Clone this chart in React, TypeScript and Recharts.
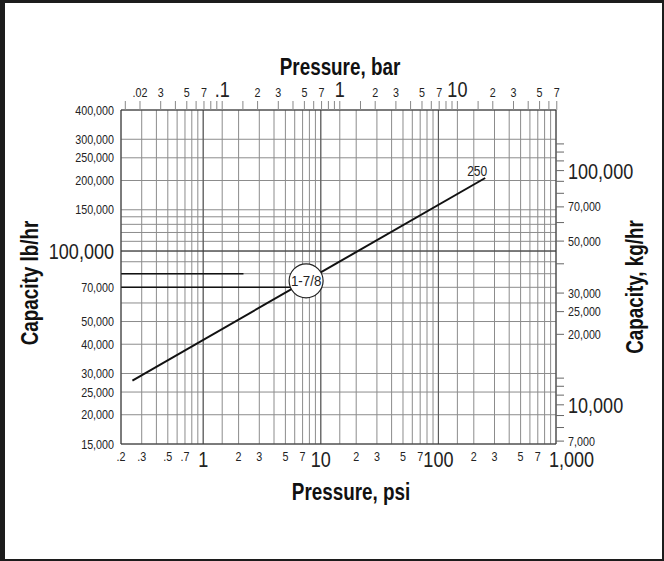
import React from 'react'
import { ComposedChart, Line, XAxis, YAxis, CartesianGrid, ReferenceLine, ReferenceDot } from 'recharts'

const FONT = '"Liberation Sans", Arial, sans-serif'

// bottom axis, psi
const psiTicks = [0.2, 0.3, 0.4, 0.5, 0.6, 0.7, 0.8, 0.9, 1, 2, 3, 4, 5, 6, 7, 8, 9, 10, 20, 30, 40, 50, 60, 70, 80, 90, 100, 200, 300, 400, 500, 600, 700, 800, 900, 1000]
const psiLabels = ['.2', '.3', '', '.5', '', '.7', '', '', '1', '2', '3', '', '5', '', '7', '', '', '10', '2', '3', '', '5', '', '7', '', '', '100', '2', '3', '', '5', '', '7', '', '', '1,000']
const psiMajor = [1, 10, 100, 1000]
const psiDark = [1, 10, 100]

// top axis, bar
const barTicks = [0.015, 0.02, 0.03, 0.04, 0.05, 0.06, 0.07, 0.08, 0.09, 0.1, 0.15, 0.2, 0.3, 0.4, 0.5, 0.6, 0.7, 0.8, 0.9, 1, 1.5, 2, 3, 4, 5, 6, 7, 8, 9, 10, 15, 20, 30, 40, 50, 60, 70]
const barLabels = ['', '.02', '3', '', '5', '', '7', '', '', '.1', '', '2', '3', '', '5', '', '7', '', '', '1', '', '2', '3', '', '5', '', '7', '', '', '10', '', '2', '3', '', '5', '', '7']
const barMajor = [0.1, 1, 10]
const barGrid = [0.1, 1, 10]

// left axis, lb/hr
const lbTicks = [15000, 20000, 25000, 30000, 40000, 50000, 60000, 70000, 80000, 90000, 100000, 110000, 120000, 130000, 140000, 150000, 200000, 250000, 300000, 400000]
const lbLabels = ['15,000', '20,000', '25,000', '30,000', '40,000', '50,000', '', '70,000', '', '', '100,000', '', '', '', '', '150,000', '200,000', '250,000', '300,000', '400,000']
const lbMajor = [100000]

// right axis, kg/hr
const kgTicks = [7000, 8000, 9000, 10000, 11000, 12000, 13000, 20000, 25000, 30000, 40000, 50000, 60000, 70000, 80000, 90000, 100000, 110000, 120000, 130000]
const kgLabels = ['7,000', '', '', '10,000', '', '', '', '20,000', '25,000', '30,000', '', '50,000', '', '70,000', '', '', '100,000', '', '', '']
const kgMajor = [10000, 100000]

const PSI_PER_BAR = 14.5038
const KG_PER_LB = 0.45359
const psiDomain = [0.2, 1000]
const lbDomain = [15000, 400000]

const capacity = [
  { psi: 0.25, lb: 28000 },
  { psi: 250, lb: 205000 },
]
const sizeMark = { psi: 7.5, lb: 74600, text: '1-7/8' }
const setMark = { psi: 250, lb: 205000, text: '250' }
const levels = [
  { lb: 80000, toPsi: 2.2 },
  { lb: 70000, toPsi: 5.5 },
]

const SMALL = 12.5
const BIG = 22

// narrow look: scale the glyphs horizontally
function NText({ x, y, anchor = 'middle', size, sx = 0.86, bold = false, rotate = 0, dy, children }: any) {
  const t = `translate(${x},${y})${rotate ? ` rotate(${rotate})` : ''} scale(${sx},1)`
  return (
    <text transform={t} textAnchor={anchor} dy={dy} fontSize={size} fontFamily={FONT}
      fontWeight={bold ? 'bold' : 'normal'} fill={bold ? '#111' : '#222'}>
      {children}
    </text>
  )
}

function makeTick(ticks: number[], labels: string[], major: number[], side: string) {
  return (props: any) => {
    const { x, y, payload } = props
    const i = ticks.indexOf(payload.value)
    const txt = i >= 0 ? labels[i] : ''
    if (!txt) return <g />
    const big = major.includes(payload.value)
    const fs = big ? BIG : SMALL
    const sx = big ? 0.82 : 0.86
    if (side === 'bottom') {
      const start = payload.value === 1000
      return <NText x={start ? x - 7 : x} y={y + (big ? 23 : 17)} anchor={start ? 'start' : 'middle'} size={fs} sx={sx}>{txt}</NText>
    }
    if (side === 'top') {
      return <NText x={x} y={y - 4} size={fs} sx={sx}>{txt}</NText>
    }
    return <NText x={x} y={y} dy="0.36em" anchor={side === 'left' ? 'end' : 'start'} size={fs} sx={sx}>{txt}</NText>
  }
}

export default function App() {
  return (
    <div style={{ position: 'absolute', left: 0, top: 0, width: 664, height: 561, background: '#fff' }}>
      <ComposedChart width={664} height={561} data={capacity} margin={{ top: 70, right: 48, bottom: 77, left: 61 }}>
        <CartesianGrid xAxisId="psi" yAxisId="lb" stroke="#8c8c8c" strokeWidth={1} />
        <XAxis xAxisId="psi" dataKey="psi" type="number" scale="log" domain={psiDomain} ticks={psiTicks} interval={0}
          orientation="bottom" height={40} tickSize={0} tickMargin={0} tickLine={false} allowDataOverflow
          axisLine={{ stroke: '#333' }} tick={makeTick(psiTicks, psiLabels, psiMajor, 'bottom')} />
        <XAxis xAxisId="bar" dataKey={(d: any) => d.psi / PSI_PER_BAR} type="number" scale="log"
          domain={[psiDomain[0] / PSI_PER_BAR, psiDomain[1] / PSI_PER_BAR]}
          ticks={barTicks} interval={0} orientation="top" height={40} tickSize={9} tickMargin={0} allowDataOverflow
          axisLine={{ stroke: '#333' }} tickLine={{ stroke: '#888' }} tick={makeTick(barTicks, barLabels, barMajor, 'top')} />
        <YAxis yAxisId="lb" type="number" scale="log" domain={lbDomain} ticks={lbTicks} interval={0} width={60}
          orientation="left" tickSize={0} tickMargin={7} tickLine={false} allowDataOverflow
          axisLine={{ stroke: '#333' }} tick={makeTick(lbTicks, lbLabels, lbMajor, 'left')} />
        <YAxis yAxisId="kg" dataKey={(d: any) => d.lb * KG_PER_LB} type="number" scale="log"
          domain={[lbDomain[0] * KG_PER_LB, lbDomain[1] * KG_PER_LB]}
          ticks={kgTicks} interval={0} width={60} orientation="right" tickSize={8} tickMargin={4} allowDataOverflow
          axisLine={{ stroke: '#333' }} tickLine={{ stroke: '#666' }} tick={makeTick(kgTicks, kgLabels, kgMajor, 'right')} />

        {psiDark.map((v) => (
          <ReferenceLine key={'p' + v} xAxisId="psi" yAxisId="lb" x={v} stroke="#555" strokeWidth={1} />
        ))}
        {barGrid.map((v) => (
          <ReferenceLine key={'b' + v} xAxisId="bar" yAxisId="lb" x={v} stroke="#8c8c8c" strokeWidth={1} />
        ))}
        {lbMajor.map((v) => (
          <ReferenceLine key={'l' + v} xAxisId="psi" yAxisId="lb" y={v} stroke="#333" strokeWidth={1} />
        ))}
        {levels.map((l) => (
          <ReferenceLine key={'s' + l.lb} xAxisId="psi" yAxisId="lb"
            segment={[{ x: psiDomain[0], y: l.lb }, { x: l.toPsi, y: l.lb }]} stroke="#111" strokeWidth={1.4} />
        ))}

        <Line xAxisId="psi" yAxisId="lb" dataKey="lb" type="linear" stroke="#111" strokeWidth={2} dot={false} isAnimationActive={false} />

        <ReferenceDot xAxisId="psi" yAxisId="lb" x={sizeMark.psi} y={sizeMark.lb} r={17} fill="#fff" stroke="#222" strokeWidth={1.2}
          label={{
            content: (p: any) => (
              <NText x={p.viewBox.x + p.viewBox.width / 2} y={p.viewBox.y + p.viewBox.height / 2 + 5.5} size={15.5} sx={0.86}>
                {sizeMark.text}
              </NText>
            ),
          }} />
        <ReferenceDot xAxisId="psi" yAxisId="lb" x={setMark.psi} y={setMark.lb} r={0} fill="none" stroke="none"
          label={{
            content: (p: any) => (
              <NText x={p.viewBox.x - 8} y={p.viewBox.y - 2} size={14} sx={0.86}>{setMark.text}</NText>
            ),
          }} />
      </ComposedChart>

      <svg width={664} height={561} style={{ position: 'absolute', left: 0, top: 0, pointerEvents: 'none' }}>
        <NText x={340} y={75} size={23} sx={0.82} bold>Pressure, bar</NText>
        <NText x={351} y={500} size={23} sx={0.82} bold>Pressure, psi</NText>
        <NText x={38} y={283} size={23} sx={0.82} bold rotate={-90}>Capacity lb/hr</NText>
        <NText x={643} y={287} size={23} sx={0.82} bold rotate={-90}>Capacity, kg/hr</NText>
      </svg>
      <div style={{ position: 'absolute', left: 0, top: 0, width: 664, height: 561, boxSizing: 'border-box',
        borderStyle: 'solid', borderColor: '#1c1c1c', borderWidth: '3px 2px 2px 5px', pointerEvents: 'none' }} />
    </div>
  )
}
